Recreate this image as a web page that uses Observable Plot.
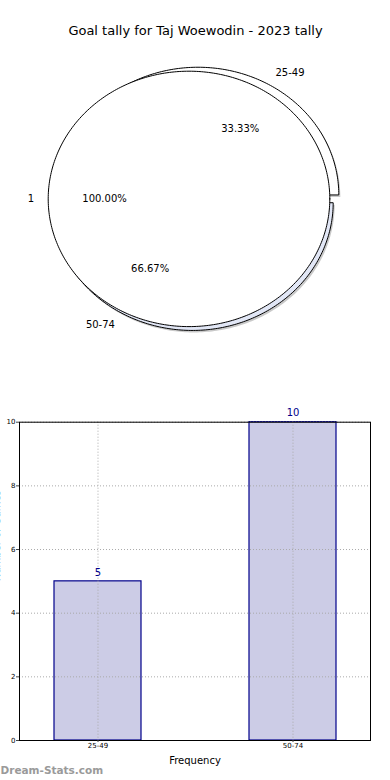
<!DOCTYPE html>
<html><head><meta charset="utf-8">
<script src="https://cdn.jsdelivr.net/npm/d3@7"></script>
<script src="https://cdn.jsdelivr.net/npm/@observablehq/plot@0.6"></script>
<style>body{margin:0;background:#fff;} svg{display:block;} #c{width:390px;}</style>
</head><body><div id="c"></div>
<script>
const title = "Goal tally for Taj Woewodin - 2023 tally";
const innerCategories = ["25-49", "50-74"];
const innerValues = [5, 10];
const outerCategories = ["1"];
const outerValues = [1];
const barCategories = ["25-49", "50-74"];
const barValues = [5, 10];
const yTicks = [0, 2, 4, 6, 8, 10];
const xLabel = "Frequency";
const yLabel = "Number of Games";
const watermark = "Dream-Stats.com";

const FONT = "DejaVu Sans, sans-serif";

function wedges(cats, vals, offsets) {
  const total = d3.sum(vals);
  let acc = 0;
  return cats.map((c, i) => {
    const a0 = acc / total * 2 * Math.PI;
    acc += vals[i];
    const a1 = acc / total * 2 * Math.PI;
    return {cat: c, frac: vals[i] / total, a0, a1, mid: (a0 + a1) / 2, ox: offsets[i][0], oy: offsets[i][1]};
  });
}
function polygon(w, full, sx = 0, sy = 0) {
  const pts = [];
  if (!full) pts.push([w.ox, w.oy]);
  const n = Math.max(2, Math.ceil((w.a1 - w.a0) / (Math.PI / 180)));
  for (let k = 0; k <= n; k++) {
    const a = w.a0 + (w.a1 - w.a0) * k / n;
    pts.push([w.ox + Math.cos(a), w.oy + Math.sin(a)]);
  }
  if (!full) pts.push([w.ox, w.oy]);
  return pts.map(p => ({x: p[0] + sx, y: p[1] + sy, cat: w.cat}));
}

// pixel scale of the pie: rx 140.8, ry 127.7
const inner = wedges(innerCategories, innerValues, [[0.064, 0.031], [0.024, -0.030]]);
const outer = wedges(outerCategories, outerValues, [[0, 0]]);
const shX = 1.5 / 140.8, shY = -2 / 127.7;

const shadowPts = inner.flatMap(w => polygon(w, false, shX, shY));
const slicePts = inner.map(w => polygon(w, false));
const outerPts = outer.flatMap(w => polygon(w, true));
const allW = [...inner, ...outer];
const labels = allW.map(w => ({
  text: w.cat,
  x: w.ox + 1.1 * Math.cos(w.mid), y: w.oy + 1.1 * Math.sin(w.mid),
  right: Math.cos(w.mid) > 0,
  pct: (w.frac * 100).toFixed(2) + "%",
  px: w.ox + 0.6 * Math.cos(w.mid), py: w.oy + 0.6 * Math.sin(w.mid)
}));

const pie = Plot.plot({
  width: 390, height: 390, margin: 0,
  style: {fontFamily: FONT, background: "#fff"},
  x: {domain: [-1, 1], range: [47.7, 329.3], axis: null},
  y: {domain: [-1, 1], range: [326.1, 70.7], axis: null},
  marks: [
    Plot.text([title], {frameAnchor: "top", lineAnchor: "middle", dy: 30, fontSize: 13, fill: "black"}),
    Plot.line(shadowPts, {x: "x", y: "y", z: "cat", fill: "#888", fillOpacity: 0.45, stroke: "none", curve: "linear-closed"}),
    Plot.line(slicePts[0], {x: "x", y: "y", fill: "white", stroke: "black", strokeWidth: 1, curve: "linear-closed"}),
    Plot.line(slicePts[1], {x: "x", y: "y", fill: "#e2e7f6", stroke: "black", strokeWidth: 1, curve: "linear-closed"}),
    Plot.line(outerPts, {x: "x", y: "y", fill: "white", stroke: "black", strokeWidth: 1, curve: "linear-closed"}),
    Plot.text(labels.filter(d => d.right), {x: "x", y: "y", text: "text", textAnchor: "start", fontSize: 10, fill: "black"}),
    Plot.text(labels.filter(d => !d.right), {x: "x", y: "y", text: "text", textAnchor: "end", fontSize: 10, fill: "black"}),
    Plot.text(labels, {x: "px", y: "py", text: "pct", fontSize: 10, fill: "black"})
  ]
});

const bars = barCategories.map((c, i) => ({cat: c, value: barValues[i]}));
const grid = {stroke: "#aaa", strokeOpacity: 1, strokeWidth: 1, strokeDasharray: "1,2"};
const chart = Plot.plot({
  width: 390, height: 390, marginTop: 31.7, marginBottom: 40, marginLeft: 19, marginRight: 20,
  style: {fontFamily: FONT, background: "#fff"},
  x: {domain: barCategories, paddingInner: 0.554, paddingOuter: 0.177, axis: null},
  y: {domain: [0, 10], axis: null},
  marks: [
    Plot.barY(bars, {x: "cat", y: "value", fill: "#ccccE6", stroke: "#00008b", strokeWidth: 1.2}),
    Plot.gridY(yTicks, grid),
    Plot.gridX(barCategories, grid),
    Plot.frame({stroke: "black", strokeWidth: 1}),
    Plot.axisY(yTicks, {tickSize: 3, tickPadding: 1, fontSize: 7, label: null, stroke: "#444", fill: "black"}),
    Plot.axisX({tickSize: 2, tickPadding: 1, fontSize: 7, label: null, stroke: "#444", fill: "black"}),
    Plot.text(bars, {x: "cat", y: "value", text: d => String(d.value), dy: -9, fill: "#00008b", fontSize: 10}),
    Plot.text([xLabel], {frameAnchor: "bottom", lineAnchor: "middle", dy: 20.5, fontSize: 10, fill: "black"}),
    Plot.text([yLabel], {frameAnchor: "left", dx: -23, rotate: -90, fontSize: 10, fill: "black"}),
    Plot.text([watermark], {frameAnchor: "bottom-left", lineAnchor: "middle", textAnchor: "start", dx: -19, dy: 30.5, fontSize: 10.5, fontWeight: "bold", fill: "#9a9a9a"})
  ]
});

document.getElementById("c").append(pie, chart);
</script>
</body></html>
